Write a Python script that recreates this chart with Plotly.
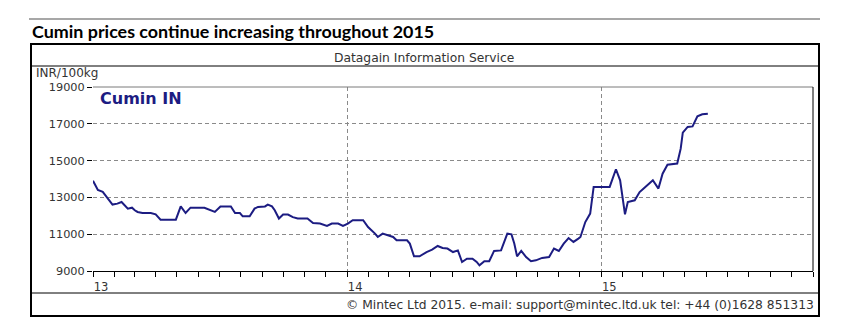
import plotly.graph_objects as go

# ---- data ----
dates = [
    "2013-01-01", "2013-01-04", "2013-01-08", "2013-01-15", "2013-01-22", "2013-01-29",
    "2013-02-05", "2013-02-11", "2013-02-20", "2013-02-26", "2013-03-02", "2013-03-06",
    "2013-03-13", "2013-03-25", "2013-04-01", "2013-04-08", "2013-04-30", "2013-05-07",
    "2013-05-14", "2013-05-21", "2013-06-10", "2013-06-18", "2013-06-25", "2013-07-03",
    "2013-07-18", "2013-07-24", "2013-07-31", "2013-08-04", "2013-08-14", "2013-08-21",
    "2013-08-26", "2013-09-05", "2013-09-09", "2013-09-15", "2013-09-19", "2013-09-25",
    "2013-10-01", "2013-10-08", "2013-10-15", "2013-10-22", "2013-11-05", "2013-11-13",
    "2013-11-23", "2013-12-03", "2013-12-10", "2013-12-19", "2013-12-26", "2014-01-02",
    "2014-01-09", "2014-01-24", "2014-01-31", "2014-02-10", "2014-02-14", "2014-02-21",
    "2014-02-28", "2014-03-08", "2014-03-13", "2014-03-28", "2014-04-01", "2014-04-07",
    "2014-04-15", "2014-04-25", "2014-05-03", "2014-05-11", "2014-05-18", "2014-05-25",
    "2014-06-02", "2014-06-09", "2014-06-15", "2014-06-22", "2014-06-30", "2014-07-06",
    "2014-07-10", "2014-07-17", "2014-07-24", "2014-07-31", "2014-08-10", "2014-08-15",
    "2014-08-19", "2014-08-25", "2014-08-29", "2014-09-02", "2014-09-08", "2014-09-15",
    "2014-09-22", "2014-09-29", "2014-10-08", "2014-10-18", "2014-10-25", "2014-11-01",
    "2014-11-08", "2014-11-15", "2014-11-22", "2014-11-29", "2014-12-02", "2014-12-09",
    "2014-12-16", "2014-12-21", "2014-12-28", "2015-01-13", "2015-01-22", "2015-01-28",
    "2015-02-04", "2015-02-08", "2015-02-18", "2015-02-25", "2015-03-04", "2015-03-16",
    "2015-03-24", "2015-03-30", "2015-04-06", "2015-04-20", "2015-04-25", "2015-04-28",
    "2015-05-05", "2015-05-12", "2015-05-19", "2015-05-26", "2015-06-03",
]
prices = [
    13900, 13650, 13400, 13300, 12930, 12610,
    12660, 12750, 12390, 12440, 12300, 12210,
    12150, 12150, 12080, 11790, 11790, 12510,
    12150, 12440, 12440, 12340, 12210, 12510,
    12510, 12150, 12150, 11970, 11970, 12390,
    12480, 12510, 12610, 12510, 12300, 11850,
    12070, 12070, 11930, 11850, 11850, 11610,
    11580, 11450, 11580, 11580, 11450, 11580,
    11760, 11760, 11390, 11030, 10850, 11030,
    10940, 10850, 10670, 10670, 10490, 9800,
    9800, 10030, 10160, 10360, 10250, 10220,
    10030, 10120, 9490, 9670, 9670, 9490,
    9310, 9530, 9530, 10090, 10120, 10580,
    11030, 10990, 10490, 9800, 10090, 9760,
    9530, 9580, 9710, 9760, 10220, 10090,
    10490, 10790, 10580, 10760, 10850, 11660,
    12120, 13570, 13570, 13570, 14530, 13930,
    12080, 12750, 12840, 13290, 13530, 13930,
    13480, 14290, 14780, 14840, 15650, 16520,
    16830, 16860, 17410, 17520, 17550,
]
series_name = "Cumin IN"
y_ticks = [9000, 11000, 13000, 15000, 17000, 19000]
x_range = ["2013-01-01", "2015-11-01"]
title_text = "Cumin prices continue increasing throughout 2015"
source_text = "Datagain Information Service"
unit_text = "INR/100kg"
footer_text = "© Mintec Ltd 2015. e-mail: support@mintec.ltd.uk tel: +44 (0)1628 851313"

# ---- layout geometry ----
W, H = 852, 321
L, R, T, B = 93, 39, 87, 50
PW, PH = W - L - R, H - T - B


def px(x):
    return (x - L) / PW


def py(y):
    return (H - B - y) / PH


LINE = "#1c1c82"
FONT = "DejaVu Sans"
TXT = "#333333"

fig = go.Figure()
fig.add_trace(go.Scatter(x=dates, y=prices, mode="lines", name=series_name,
                         line=dict(color=LINE, width=2), showlegend=False))

shapes = []


def hline(x0, x1, y, color="black", width=1):
    shapes.append(dict(type="line", xref="paper", yref="paper",
                       x0=px(x0), x1=px(x1), y0=py(y), y1=py(y),
                       line=dict(color=color, width=width)))


def vline(x, y0, y1, color="black", width=1):
    shapes.append(dict(type="line", xref="paper", yref="paper",
                       x0=px(x), x1=px(x), y0=py(y0), y1=py(y1),
                       line=dict(color=color, width=width)))


# grey rule above title
hline(29, 820, 19, color="#8a8a8a", width=1.5)
# outer frame
shapes.append(dict(type="rect", xref="paper", yref="paper",
                   x0=px(31), x1=px(819), y0=py(316), y1=py(44),
                   line=dict(color="black", width=2)))
hline(31, 819, 66)
hline(31, 819, 293)
# plot top and right border
hline(93, 813, 87, color="#7a7a7a", width=1)
vline(813, 87, 271, color="black", width=1)

fig.update_layout(
    width=W, height=H,
    margin=dict(l=L, r=R, t=T, b=B, pad=0),
    paper_bgcolor="white", plot_bgcolor="white",
    shapes=shapes,
    font=dict(family=FONT, size=11, color=TXT),
    xaxis=dict(
        type="date", range=x_range, tick0="2013-01-01", dtick="M12",
        tickformat="%y", ticks="outside", ticklen=5, tickcolor="black",
        tickfont=dict(size=11.5, color=TXT), ticklabelshift=8,
        showline=True, linecolor="black", linewidth=1,
        showgrid=True, gridcolor="#8a8a8a", griddash="4px,3px", gridwidth=1,
        minor=dict(dtick="M1", tick0="2013-01-01", ticks="outside", ticklen=5,
                   tickcolor="black", showgrid=False),
        fixedrange=True,
    ),
    yaxis=dict(
        range=[9000, 19000], tickvals=y_ticks, tickformat="d", ticks="outside",
        ticklen=5, tickcolor="black", tickfont=dict(size=11.3, color=TXT),
        showline=False, showgrid=True, gridcolor="#8a8a8a",
        griddash="4px,3px", gridwidth=1, zeroline=False, fixedrange=True,
    ),
    annotations=[
        dict(xref="paper", yref="paper", x=px(30), y=py(31), xanchor="left",
             yanchor="middle", text="<b>" + title_text + "</b>", showarrow=False,
             font=dict(family="Lato", size=17.9, color="black")),
        dict(xref="paper", yref="paper", x=px(424), y=py(57.5), xanchor="center",
             yanchor="middle", text=source_text, showarrow=False,
             font=dict(family=FONT, size=12.3, color=TXT)),
        dict(xref="paper", yref="paper", x=px(34), y=py(73.5), xanchor="left",
             yanchor="middle", text=unit_text, showarrow=False,
             font=dict(family=FONT, size=12, color=TXT)),
        dict(xref="paper", yref="paper", x=px(98), y=py(98), xanchor="left",
             yanchor="middle", text="<b>" + series_name + "</b>", showarrow=False,
             font=dict(family=FONT, size=16, color=LINE)),
        dict(xref="paper", yref="paper", x=px(816), y=py(304.5), xanchor="right",
             yanchor="middle", text=footer_text, showarrow=False,
             font=dict(family=FONT, size=12.3, color=TXT)),
    ],
)

fig.write_html("out.html")
